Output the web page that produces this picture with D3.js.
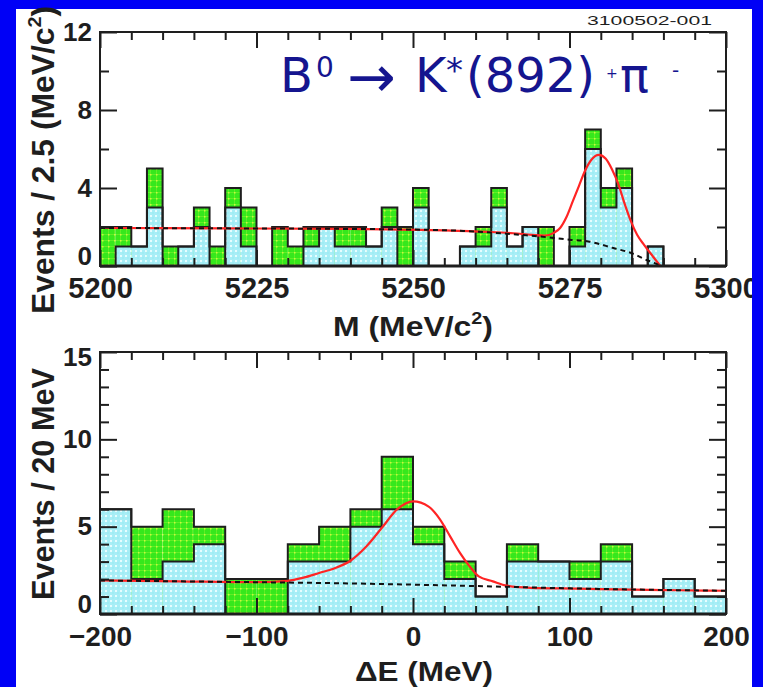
<!DOCTYPE html>
<html>
<head>
<meta charset="utf-8">
<script src="https://cdnjs.cloudflare.com/ajax/libs/d3/7.8.5/d3.min.js"></script>
<style>
  html, body { margin: 0; padding: 0; background: #0000f6; }
  svg { display: block; }
</style>
</head>
<body>
<svg id="chart" width="763" height="687"></svg>
<script>
// ---- B0 -> K*(892)+ pi- candidates: beam-constrained mass ----
const massBinStart = [5200, 5202.5, 5205, 5207.5, 5210, 5212.5, 5215, 5217.5, 5220, 5222.5,
                      5225, 5227.5, 5230, 5232.5, 5235, 5237.5, 5240, 5242.5, 5245, 5247.5,
                      5250, 5252.5, 5255, 5257.5, 5260, 5262.5, 5265, 5267.5, 5270, 5272.5,
                      5275, 5277.5, 5280, 5282.5, 5285, 5287.5, 5290, 5292.5, 5295, 5297.5];
const massBinWidth = 2.5;
const massTotal = [2, 2, 1, 5, 1, 1, 3, 1, 4, 3,
                   0, 2, 1, 2, 2, 2, 2, 1, 3, 2,
                   4, 0, 0, 1, 2, 4, 1, 2, 2, 0,
                   2, 7, 4, 5, 0, 1, 0, 0, 0, 0];
const massCyan  = [0, 1, 1, 3, 0, 1, 2, 0, 3, 1,
                   0, 0, 0, 1, 2, 1, 1, 1, 2, 0,
                   3, 0, 0, 1, 1, 3, 1, 2, 0, 0,
                   1, 6, 3, 4, 0, 1, 0, 0, 0, 0];
// fit (signal + background) and background-only curves
const massFitX = [5200, 5220, 5240, 5255, 5262, 5266, 5269, 5271, 5272.5, 5273.5, 5274.5, 5275.5,
                  5276.5, 5277.5, 5278.5, 5279.7, 5280.8, 5281.8, 5282.8, 5283.8, 5284.8, 5285.8,
                  5287, 5288.3, 5289.5];
const massFitY = [1.95, 1.93, 1.9, 1.83, 1.75, 1.68, 1.6, 1.56, 1.7, 1.95, 2.5, 3.3,
                  4.1, 4.9, 5.45, 5.7, 5.5, 4.95, 4.2, 3.2, 2.3, 1.6,
                  1.05, 0.5, 0];
const massBkgX = [5200, 5220, 5240, 5250, 5258, 5264, 5270, 5275, 5278, 5282, 5285, 5287.3, 5288.6, 5289.5];
const massBkgY = [1.95, 1.93, 1.9, 1.87, 1.8, 1.68, 1.52, 1.35, 1.26, 0.92, 0.65, 0.31, 0.15, 0];
const massTickLabels = [5200, 5225, 5250, 5275, 5300];
const massCountLabels = [0, 4, 8, 12];

// ---- energy difference ----
const dEBinStart = [-200, -180, -160, -140, -120, -100, -80, -60, -40, -20,
                    0, 20, 40, 60, 80, 100, 120, 140, 160, 180];
const dEBinWidth = 20;
const dETotal = [6, 5, 6, 5, 2, 2, 4, 5, 6, 9, 5, 3, 1, 4, 3, 3, 4, 1, 2, 1];
const dECyan  = [6, 2, 3, 4, 0, 0, 3, 3, 5, 6, 4, 2, 1, 3, 3, 2, 3, 1, 2, 1];
const dEFitX = [-200, -150, -100, -80, -70, -60, -50, -40, -30, -20, -10, 0, 10, 17, 24, 30, 36, 42,
                51, 60, 75, 105, 140, 170, 200];
const dEFitY = [1.92, 1.87, 1.82, 1.9, 2.08, 2.35, 2.62, 3.05, 3.85, 4.92, 6.0, 6.45, 6.15, 5.45, 4.4, 3.5, 2.75, 2.15,
                1.87, 1.62, 1.5, 1.45, 1.39, 1.36, 1.33];
const dEBkgX = [-200, -100, -40, 0, 50, 100, 150, 200];
const dEBkgY = [1.92, 1.82, 1.75, 1.68, 1.58, 1.47, 1.39, 1.33];
const dETickLabels = [-200, -100, 0, 100, 200];
const dECountLabels = [0, 5, 10, 15];

const svg = d3.select("#chart");
const W = 763, H = 687;

// page: blue surround, white sheet
svg.append("rect").attr("width", W).attr("height", H).attr("fill", "#0000f6");
svg.append("rect").attr("x", 16).attr("y", 9).attr("width", 736).attr("height", H - 9).attr("fill", "#ffffff");

// textured fills
const defs = svg.append("defs");
const pc = defs.append("pattern").attr("id", "cyanFill").attr("patternUnits", "userSpaceOnUse")
  .attr("width", 5).attr("height", 5);
pc.append("rect").attr("width", 5).attr("height", 5).attr("fill", "#a8eef6");
pc.append("rect").attr("x", 0).attr("y", 0).attr("width", 2).attr("height", 2).attr("fill", "#e6fdff");
pc.append("rect").attr("x", 2.5).attr("y", 2.5).attr("width", 1).attr("height", 1).attr("fill", "#86e6f1");
const pg = defs.append("pattern").attr("id", "greenFill").attr("patternUnits", "userSpaceOnUse")
  .attr("width", 6).attr("height", 6);
pg.append("rect").attr("width", 6).attr("height", 6).attr("fill", "#36e81c");
pg.append("rect").attr("x", 0).attr("y", 0).attr("width", 6).attr("height", 1).attr("fill", "#5fee26");
pg.append("rect").attr("x", 0).attr("y", 0).attr("width", 1).attr("height", 6).attr("fill", "#5fee26");
pg.append("rect").attr("x", 0).attr("y", 0).attr("width", 1.5).attr("height", 1.5).attr("fill", "#c8fa3c");

const FONT = "'Liberation Sans', Arial, Helvetica, sans-serif";
const INK = "#1e1e1e";

function stepPoints(starts, width, vals) {
  const pts = [[starts[0], 0]];
  starts.forEach((s, i) => { pts.push([s, vals[i]]); pts.push([s + width, vals[i]]); });
  pts.push([starts[starts.length - 1] + width, 0]);
  return pts;
}

function panel(cfg) {
  const x = d3.scaleLinear().domain(cfg.xDomain).range([100, 726]);
  const y = d3.scaleLinear().domain(cfg.yDomain).range([cfg.y0, cfg.y1]);
  const g = svg.append("g");

  // total (green) and subset (cyan) histograms
  g.selectAll("rect.tot").data(cfg.starts).join("rect")
    .attr("x", d => x(d)).attr("width", d => x(d + cfg.bw) - x(d))
    .attr("y", (d, i) => y(cfg.total[i])).attr("height", (d, i) => y(0) - y(cfg.total[i]))
    .attr("fill", "url(#greenFill)");
  g.selectAll("rect.cy").data(cfg.starts).join("rect")
    .attr("x", d => x(d)).attr("width", d => x(d + cfg.bw) - x(d))
    .attr("y", (d, i) => y(cfg.cyan[i])).attr("height", (d, i) => y(0) - y(cfg.cyan[i]))
    .attr("fill", "url(#cyanFill)");

  const line = d3.line().x(d => x(d[0])).y(d => y(d[1]));
  [cfg.total, cfg.cyan].forEach(v => {
    g.append("path").attr("d", line(stepPoints(cfg.starts, cfg.bw, v)))
      .attr("fill", "none").attr("stroke", INK).attr("stroke-width", 2)
      .attr("stroke-linejoin", "miter");
  });

  // fit curves
  const smooth = d3.line().x(d => x(d[0])).y(d => y(d[1])).curve(d3.curveMonotoneX);
  g.append("path").attr("d", smooth(cfg.fitX.map((v, i) => [v, cfg.fitY[i]])))
    .attr("fill", "none").attr("stroke", "#ff2424").attr("stroke-width", 2.2);
  g.append("path").attr("d", smooth(cfg.bkgX.map((v, i) => [v, cfg.bkgY[i]])))
    .attr("fill", "none").attr("stroke", "#111").attr("stroke-width", 2)
    .attr("stroke-dasharray", "5,4");

  // inward tick marks on all four sides
  function tickSet(axis, tx, ty, vals, len) {
    const a = g.append("g").attr("transform", `translate(${tx},${ty})`)
      .call(axis.tickValues(vals).tickSize(-len).tickFormat(""));
    a.select(".domain").remove();
    a.selectAll("line").attr("stroke", INK).attr("stroke-width", 2);
  }
  const xMinor = cfg.xMinor.filter(v => !cfg.xMajor.includes(v));
  const yMinor = cfg.yMinor.filter(v => !cfg.yMajor.includes(v));
  tickSet(d3.axisTop(x), 0, cfg.y1, xMinor, 8);
  tickSet(d3.axisTop(x), 0, cfg.y1, cfg.xMajor, 16);
  tickSet(d3.axisBottom(x), 0, cfg.y0, xMinor, 8);
  tickSet(d3.axisBottom(x), 0, cfg.y0, cfg.xMajor, 16);
  tickSet(d3.axisLeft(y), 100, 0, yMinor, 9);
  tickSet(d3.axisLeft(y), 100, 0, cfg.yMajor, 17);
  tickSet(d3.axisRight(y), 726, 0, yMinor, 9);
  tickSet(d3.axisRight(y), 726, 0, cfg.yMajor, 17);

  // frame
  g.append("rect").attr("x", 100).attr("y", cfg.y1).attr("width", 626).attr("height", cfg.y0 - cfg.y1)
    .attr("fill", "none").attr("stroke", INK).attr("stroke-width", 2);
  g.append("line").attr("x1", 100).attr("x2", 726).attr("y1", cfg.y0).attr("y2", cfg.y0)
    .attr("stroke", INK).attr("stroke-width", 3);

  // tick labels
  const fmt = d3.format("d");
  const yl = g.append("g").attr("transform", "translate(100,0)")
    .call(d3.axisLeft(y).tickValues(cfg.yLabels).tickSize(0).tickPadding(8).tickFormat(fmt));
  yl.select(".domain").remove();
  yl.selectAll("text").attr("font-family", FONT).attr("font-weight", "bold")
    .attr("font-size", cfg.yFont).attr("fill", INK)
    .attr("dy", d => d === cfg.yDomain[0] ? "-0.05em" : (d === cfg.yDomain[1] && cfg.lowerTop ? "0.5em" : "0.32em"));
  const xl = g.append("g").attr("transform", `translate(0,${cfg.y0})`)
    .call(d3.axisBottom(x).tickValues(cfg.xLabels).tickSize(0).tickPadding(cfg.xPad)
      .tickFormat(d => fmt(d).replace("-", "\u2212")));
  xl.select(".domain").remove();
  xl.selectAll("text").attr("font-family", FONT).attr("font-weight", "bold")
    .attr("font-size", cfg.xFont).attr("fill", INK);
  return g;
}

panel({
  xDomain: [5200, 5300], yDomain: [0, 12], y0: 266, y1: 32,
  starts: massBinStart, bw: massBinWidth, total: massTotal, cyan: massCyan,
  fitX: massFitX, fitY: massFitY, bkgX: massBkgX, bkgY: massBkgY,
  xMajor: massTickLabels, xMinor: d3.range(5200, 5301, 5),
  yMajor: massCountLabels, yMinor: d3.range(0, 13, 2),
  xLabels: massTickLabels, yLabels: massCountLabels, yFont: 26, xFont: 29, xPad: 11, lowerTop: false
});

panel({
  xDomain: [-200, 200], yDomain: [0, 15], y0: 614, y1: 352,
  starts: dEBinStart, bw: dEBinWidth, total: dETotal, cyan: dECyan,
  fitX: dEFitX, fitY: dEFitY, bkgX: dEBkgX, bkgY: dEBkgY,
  xMajor: dETickLabels, xMinor: d3.range(-200, 201, 20),
  yMajor: dECountLabels, yMinor: d3.range(0, 16, 1),
  xLabels: dETickLabels, yLabels: dECountLabels, yFont: 26, xFont: 28, xPad: 12, lowerTop: true
});

// axis titles
function title(txt, x, y, rot, len, size) {
  const t = svg.append("text")
    .attr("transform", `translate(${x},${y})` + (rot ? " rotate(-90)" : ""))
    .attr("text-anchor", "middle").attr("font-family", FONT).attr("font-weight", "bold")
    .attr("font-size", size).attr("fill", INK)
    .attr("textLength", len).attr("lengthAdjust", "spacingAndGlyphs");
  txt.forEach(p => {
    const s = t.append("tspan").text(p.t);
    if (p.sup) s.attr("font-size", size * 0.62).attr("dy", -size * 0.42);
    if (p.back) s.attr("dy", size * 0.42);
  });
}
title([{t: "Events / 2.5 (MeV/c"}, {t: "2", sup: true}, {t: ")", back: true}], 54, 160, true, 308, 31);
title([{t: "M (MeV/c"}, {t: "2", sup: true}, {t: ")", back: true}], 413, 336, false, 160, 28);
title([{t: "Events / 20 MeV"}], 54, 484, true, 232, 31);
title([{t: "\u0394E (MeV)"}], 424, 681, false, 138, 28);

// decay-mode label
const TITLE_C = "#15158f";
const deco = svg.append("text").attr("font-family", "'DejaVu Sans', Verdana, sans-serif").attr("fill", TITLE_C);
[
  {t: "B", x: 280, y: 92, s: 48},
  {t: "0", x: 316, y: 77, s: 28},
  {t: "\u2192", x: 347, y: 97, s: 58},
  {t: "K", x: 415, y: 92, s: 48},
  {t: "*", x: 446, y: 82, s: 34},
  {t: "(892)", x: 466, y: 92, s: 48},
  {t: "+", x: 606, y: 78, s: 14},
  {t: "\u03c0", x: 620, y: 92, s: 48},
  {t: "-", x: 672, y: 77, s: 20}
].forEach(p => deco.append("tspan").attr("x", p.x).attr("y", p.y).attr("font-size", p.s).text(p.t));

// figure id
svg.append("text").attr("x", 587).attr("y", 25).attr("font-family", FONT).attr("font-size", 13)
  .attr("fill", INK).attr("textLength", 125).attr("lengthAdjust", "spacingAndGlyphs").text("3100502-001");

// right-hand blue margin sits over the sheet
svg.append("rect").attr("x", 752).attr("y", 0).attr("width", W - 752).attr("height", H).attr("fill", "#0000f6");
</script>
</body>
</html>
